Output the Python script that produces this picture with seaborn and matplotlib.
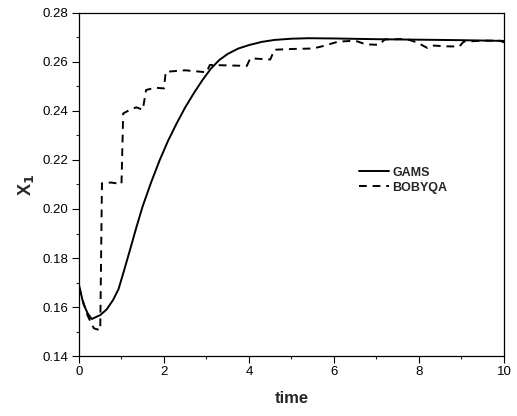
import numpy as np
import pandas as pd
import matplotlib
matplotlib.use("Agg")
import matplotlib.pyplot as plt
import seaborn as sns
from matplotlib.ticker import MultipleLocator, FormatStrFormatter

# ---- data ----
gams_t = [0.0, 0.1, 0.2, 0.3, 0.5, 0.65, 0.8, 0.93, 1.05, 1.2, 1.35, 1.5, 1.7,
          1.9, 2.1, 2.3, 2.5, 2.7, 2.9, 3.1, 3.3, 3.5, 3.75, 4.0, 4.3, 4.6,
          5.0, 5.4, 6.0, 7.0, 8.0, 9.0, 10.0]
gams_x1 = [0.169, 0.1615, 0.1575, 0.1551, 0.1567, 0.1590, 0.1628, 0.1673,
           0.1743, 0.1833, 0.1925, 0.2012, 0.2110, 0.2200, 0.2280, 0.2350,
           0.2415, 0.2472, 0.2525, 0.2572, 0.2608, 0.2633, 0.2655, 0.2669,
           0.2682, 0.2690, 0.2695, 0.2697, 0.2696, 0.2693, 0.2691, 0.2689,
           0.2686]

bob_t = [0.0, 0.18, 0.27, 0.35, 0.5, 0.54, 0.75, 1.0, 1.04, 1.2, 1.35, 1.5, 1.58,
         1.8, 2.0, 2.04, 2.5, 3.0, 3.08, 3.5, 3.95, 4.03, 4.5, 4.6, 5.0, 5.5,
         5.7, 6.1, 6.4, 6.55, 6.75, 7.05, 7.2, 7.7, 7.95, 8.2, 8.35, 8.6, 8.95,
         9.05, 9.5, 9.9, 10.0]
bob_x1 = [0.168, 0.1574, 0.154, 0.1513, 0.1505, 0.2105, 0.2108, 0.2102, 0.2390,
          0.2405, 0.2415, 0.2405, 0.2486, 0.2495, 0.2492, 0.2560, 0.2566, 0.2558,
          0.2588, 0.2586, 0.2584, 0.2615, 0.2610, 0.2650, 0.2653, 0.2655,
          0.2663, 0.2683, 0.2686, 0.2684, 0.2672, 0.2670, 0.2692, 0.2694,
          0.2680, 0.2657, 0.2667, 0.2664, 0.2663, 0.2683, 0.2687, 0.2687, 0.2680]

labels = ["GAMS", "BOBYQA"]

df = pd.concat([
    pd.DataFrame({"time": gams_t, "x1": gams_x1, "method": labels[0]}),
    pd.DataFrame({"time": bob_t, "x1": bob_x1, "method": labels[1]}),
], ignore_index=True)

sns.set_style("ticks")
plt.rcParams["font.family"] = ["Liberation Sans", "DejaVu Sans"]

fig = plt.figure(figsize=(5.17, 4.16), dpi=100)
ax = fig.add_axes([0.1528, 0.1442, 0.822, 0.8246])

sns.lineplot(data=df, x="time", y="x1", hue="method", style="method",
             palette={"GAMS": "black", "BOBYQA": "black"},
             dashes={"GAMS": "", "BOBYQA": (4, 3)},
             linewidth=1.4, sort=False, estimator=None, ax=ax)

ax.set_xlim(0, 10)
ax.set_ylim(0.14, 0.28)
ax.xaxis.set_major_locator(MultipleLocator(2))
ax.xaxis.set_minor_locator(MultipleLocator(1))
ax.yaxis.set_major_locator(MultipleLocator(0.02))
ax.yaxis.set_minor_locator(MultipleLocator(0.01))
ax.yaxis.set_major_formatter(FormatStrFormatter("%.2f"))
ax.xaxis.set_major_formatter(FormatStrFormatter("%d"))

for s in ax.spines.values():
    s.set_visible(True)
    s.set_linewidth(0.9)
    s.set_color("black")

ax.tick_params(axis="both", which="major", direction="out", length=5, width=0.8,
               labelsize=9.5, colors="black", pad=2.5)
ax.tick_params(axis="both", which="minor", direction="out", length=2.5, width=0.8)
ax.tick_params(top=False, right=False, which="both")

ax.set_xlabel("time", fontsize=12, fontweight="bold", labelpad=9)
ax.set_ylabel(r"X$_\mathbf{1}$", fontsize=13, fontweight="bold", labelpad=5)

leg = ax.legend(loc="upper left", bbox_to_anchor=(0.643, 0.57), frameon=False,
                handlelength=2.4, handletextpad=0.3, borderpad=0,
                labelspacing=0.25, prop={"weight": "bold", "size": 9})
leg.set_title(None)

fig.savefig("out.png", dpi=100)
